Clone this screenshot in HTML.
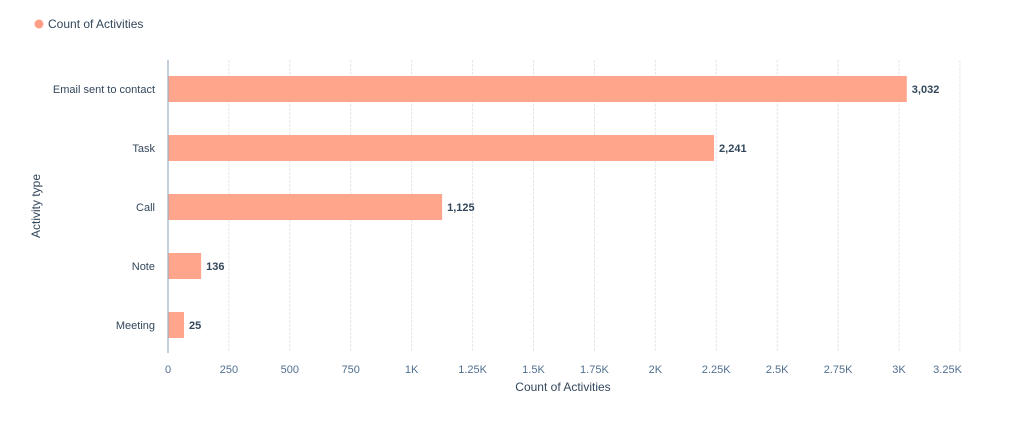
<!DOCTYPE html>
<html><head><meta charset="utf-8"><style>
body{margin:0;background:#fff;font-family:"Liberation Sans",sans-serif}
svg text{font-family:"Liberation Sans",sans-serif}
</style></head><body>
<svg width="1024" height="424">
<g>
<circle cx="39" cy="24" r="4.5" fill="#ff9f86"/>
<text x="48" y="28" font-size="12" fill="#33475b">Count of Activities</text>
</g>
<g id="grid"></g><g id="bars"></g>
<line x1="168" y1="60" x2="168" y2="353" stroke="#99afc4" stroke-width="1.2"/>
<text x="0" y="0" transform="translate(40,206) rotate(-90)" text-anchor="middle" font-size="12" fill="#33475b">Activity type</text>
<text x="563" y="391" text-anchor="middle" font-size="12" fill="#33475b">Count of Activities</text>
</svg>
<script>
const categories=["Email sent to contact","Task","Call","Note","Meeting"];
const values=[3032,2241,1125,136,25];
const valueLabels=["3,032","2,241","1,125","136","25"];
const tickValues=[0,250,500,750,1000,1250,1500,1750,2000,2250,2500,2750,3000,3250];
const tickLabels=["0","250","500","750","1K","1.25K","1.5K","1.75K","2K","2.25K","2.5K","2.75K","3K","3.25K"];
const NS="http://www.w3.org/2000/svg";
const x=v=>168+v*(899-168)/3000;
const y=i=>89+i*59;
const grid=document.getElementById('grid'),bars=document.getElementById('bars');
function mk(tag,attrs,parent,text){const e=document.createElementNS(NS,tag);for(const k in attrs)e.setAttribute(k,attrs[k]);if(text!=null)e.textContent=text;parent.appendChild(e);return e;}
tickValues.forEach((t,i)=>{
 if(t>0){const l=mk('line',{x1:x(t),x2:x(t),y1:60,y2:352,stroke:'#e3e8ee','stroke-dasharray':'3,1'},grid);
 
 }
 const last=i===tickValues.length-1;
 const tx=mk('text',{x:last?x(t)+2:x(t),y:373,'text-anchor':last?'end':'middle','font-size':11,fill:'#516f90'},grid,tickLabels[i]);
 
 
});
categories.forEach((c,i)=>{
 const w=Math.max(x(values[i])-168,16);
 const r=mk('rect',{x:168,y:y(i)-13,width:w,height:26,fill:'#ffa58c'},bars);
 
 
 const cl=mk('text',{x:155,y:y(i)+4,'text-anchor':'end','font-size':11,fill:'#33475b'},bars,c);
 
 
 const vl=mk('text',{x:168+w+5,y:y(i)+4,'font-size':11,'font-weight':'bold',fill:'#33475b'},bars,valueLabels[i]);
 
 
});
</script>
</body></html>
